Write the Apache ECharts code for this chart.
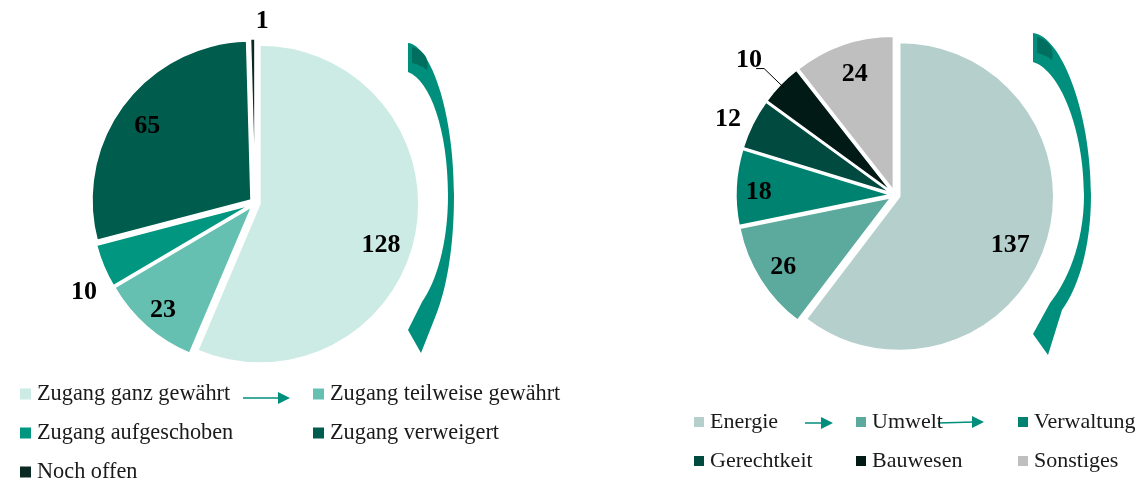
<!DOCTYPE html>
<html>
<head>
<meta charset="utf-8">
<script src="https://cdn.jsdelivr.net/npm/echarts@6/dist/echarts.min.js"></script>
<style>
  html, body { margin: 0; padding: 0; background: #fff; }
  #main { width: 1141px; height: 481px; }
</style>
</head>
<body>
<div id="main"></div>
<script>
// linkes Diagramm: Ergebnis der Anträge
var leftNames = ['Zugang ganz gewährt', 'Zugang teilweise gewährt', 'Zugang aufgeschoben', 'Zugang verweigert', 'Noch offen'];
var leftValues = [128, 23, 10, 65, 1];
var leftColors = ['#cdebe5', '#66c0b2', '#00967f', '#005c4d', '#0a2923'];

// rechtes Diagramm: Sachgebiete
var rightNames = ['Energie', 'Umwelt', 'Verwaltung', 'Gerechtkeit', 'Bauwesen', 'Sonstiges'];
var rightValues = [137, 26, 18, 12, 10, 24];
var rightColors = ['#b5d0cc', '#5baa9d', '#008270', '#004a40', '#021a16', '#bfbfbf'];

var serif = '"Liberation Serif", "Times New Roman", serif';
var arrowColor = '#008f7c';

// Feinkorrektur der Beschriftungen [dx, dy]
var leftNudge = [[-11, 14], [0, 2], [14, 14], [4, 7], [15, 7]];
var rightNudge = [[-13, 7], [3, 0], [-1, 4], [8, 9], [11, -8], [4, 7]];

function pieData(names, values, colors) {
  return names.map(function (n, i) {
    return { name: n, value: values[i], selected: true, itemStyle: { color: colors[i] } };
  });
}

// nur Beschriftungen, transparente Ringe
function labelData(names, values, outside, lineIdx) {
  return names.map(function (n, i) {
    var item = { name: n, value: values[i] };
    if (outside.indexOf(i) >= 0) {
      item.label = { position: 'outside' };
      item.labelLine = { show: false, length: 36, length2: 0 };
    }
    if (i === lineIdx) {
      item.label = { position: 'outside' };
      item.labelLine = { show: true, length: 28, length2: 8, lineStyle: { color: '#000', width: 1 } };
    }
    return item;
  });
}

function mainSeries(center, r, data) {
  return {
    type: 'pie',
    center: center,
    radius: [0, r],
    startAngle: 90,
    selectedMode: 'multiple',
    selectedOffset: 5,
    silent: true,
    label: { show: false },
    labelLine: { show: false },
    itemStyle: { borderColor: '#fff', borderWidth: 1.5 },
    data: data
  };
}

function labelSeries(center, r, data, outside, nudge) {
  return {
    type: 'pie',
    center: center,
    radius: [r * 0.72, r],
    startAngle: 90,
    silent: true,
    z: 5,
    itemStyle: { color: 'rgba(0,0,0,0)' },
    label: {
      show: true,
      position: 'inside',
      formatter: '{c}',
      color: '#000',
      fontFamily: serif,
      fontWeight: 'bold',
      fontSize: 26
    },
    labelLine: { show: false },
    labelLayout: function (p) {
      var o = { dx: nudge[p.dataIndex][0], dy: nudge[p.dataIndex][1] };
      if (outside.indexOf(p.dataIndex) >= 0) {
        o.align = 'center';
      }
      return o;
    },
    data: data
  };
}

function legend(names, left, top, width, textWidth, fontSize, icon) {
  return {
    data: names,
    left: left,
    top: top,
    width: width,
    padding: 0,
    orient: 'horizontal',
    icon: 'rect',
    itemWidth: icon,
    itemHeight: icon,
    itemGap: 17,
    selectedMode: false,
    textStyle: {
      fontFamily: serif,
      fontSize: fontSize,
      color: '#1a1a1a',
      width: textWidth,
      lineHeight: 20
    }
  };
}

// gebogene Pfeile rechts neben den Kreisen (Dekoration)
var arrowPaths = [
  ['M408 43 C430 45 454 110 454 195 C454 250 446 290 436 315 L421 353 L408 330 L422 302 C436 282 448 245 448 195 C448 130 430 80 408 72 Z', arrowColor],
  ['M412 47 C418 48 423 52 426 57 C428 62 428 66 427 70 C422 66 417 64 412 63 Z', '#006f5f'],
  ['M1033 33 C1060 35 1091 110 1091 195 C1091 250 1077 290 1062 310 L1048 355 L1033 334 L1050 303 C1066 283 1084 245 1084 195 C1084 130 1060 70 1033 62 Z', arrowColor],
  ['M1037 37 C1043 38 1048 42 1051 47 C1053 52 1053 56 1052 60 C1047 56 1042 54 1037 53 Z', '#006f5f']
];

var decoSeries = {
  type: 'custom',
  coordinateSystem: 'none',
  silent: true,
  data: [0],
  renderItem: function () {
    return {
      type: 'group',
      children: arrowPaths.map(function (p) {
        return {
          type: 'path',
          shape: { pathData: p[0] },
          style: { fill: p[1] }
        };
      })
    };
  }
};

function arrowHead(x, y) {
  return {
    type: 'polygon',
    shape: { points: [[x - 12, y - 6], [x, y], [x - 12, y + 6]] },
    style: { fill: arrowColor }
  };
}

var myChart = echarts.init(document.getElementById('main'));
var option = {
  animation: false,
  legend: [
    legend(leftNames, 18, 383, 575, 257, 22.3, 13),
    legend(rightNames, 692, 411, 470, 127, 22, 12)
  ],
  series: [
    mainSeries([255, 203], 159, pieData(leftNames, leftValues, leftColors)),
    mainSeries([895, 195], 154, pieData(rightNames, rightValues, rightColors)),
    labelSeries([255, 203], 159, labelData(leftNames, leftValues, [2, 4], -1), [2, 4], leftNudge),
    labelSeries([895, 195], 154, labelData(rightNames, rightValues, [3], 4), [3], rightNudge),
    decoSeries
  ],
  graphic: [
    // kleine Pfeile in den Legenden
    { type: 'line', shape: { x1: 243, y1: 398, x2: 280, y2: 398 }, style: { stroke: arrowColor, lineWidth: 1.5 } },
    arrowHead(290, 398),
    { type: 'line', shape: { x1: 805, y1: 423, x2: 823, y2: 423 }, style: { stroke: arrowColor, lineWidth: 1.5 } },
    arrowHead(833, 423),
    { type: 'line', shape: { x1: 938, y1: 423, x2: 974, y2: 422 }, style: { stroke: arrowColor, lineWidth: 1.5 } },
    arrowHead(984, 422)
  ]
};
myChart.setOption(option);
</script>
</body>
</html>
